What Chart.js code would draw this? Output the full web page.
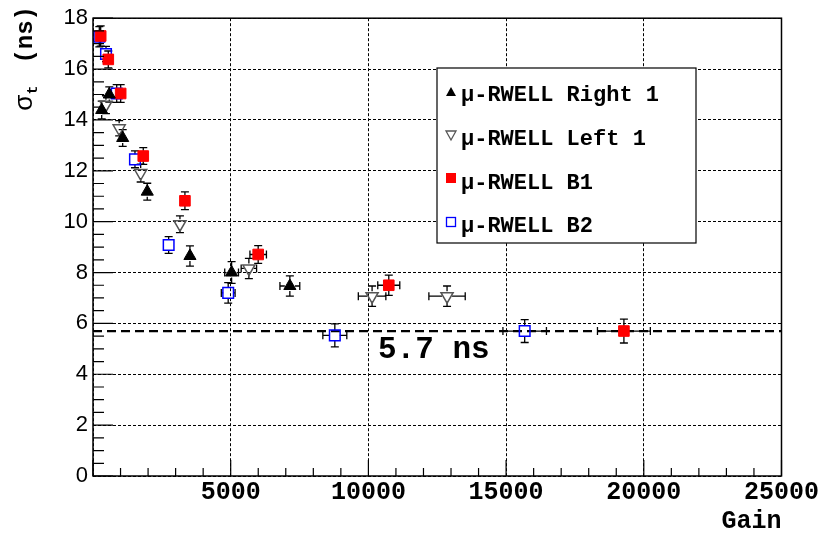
<!DOCTYPE html>
<html>
<head>
<meta charset="utf-8">
<script src="https://cdn.jsdelivr.net/npm/chart.js@4.4.1/dist/chart.umd.min.js"></script>
<style>
  html, body { margin: 0; padding: 0; background: #fff; }
</style>
</head>
<body>
<canvas id="sigma-chart" width="821" height="533"></canvas>
<script>
// timing resolution vs gain
const right1_gain = [316, 591, 1078, 1970, 3520, 5033, 7148];
const right1_sigma = [14.39, 15.0, 13.29, 11.18, 8.65, 8.0, 7.47];
const right1_sigma_err = [0.35, 0.3, 0.33, 0.33, 0.4, 0.43, 0.4];
const right1_gain_err = [15, 30, 55, 100, 180, 250, 360];

const left1_gain = [470, 950, 1731, 3157, 5660, 10134, 12856];
const left1_sigma = [14.6, 13.67, 11.91, 9.9, 8.16, 7.07, 7.07];
const left1_sigma_err = [0.35, 0.3, 0.35, 0.33, 0.4, 0.4, 0.4];
const left1_gain_err = [25, 50, 90, 160, 280, 500, 660];

const b1_gain = [279, 555, 1005, 1825, 3338, 5998, 10740, 19278];
const b1_sigma = [17.3, 16.38, 15.04, 12.58, 10.82, 8.71, 7.5, 5.7];
const b1_sigma_err = [0.4, 0.33, 0.35, 0.33, 0.35, 0.35, 0.4, 0.47];
const b1_gain_err = [15, 30, 50, 90, 170, 300, 400, 960];

const b2_gain = [229, 472, 860, 1524, 2747, 4909, 8781, 15675];
const b2_sigma = [17.27, 16.59, 15.04, 12.45, 9.08, 7.2, 5.53, 5.7];
const b2_sigma_err = [0.4, 0.3, 0.35, 0.33, 0.33, 0.4, 0.45, 0.45];
const b2_gain_err = [12, 25, 45, 75, 140, 250, 435, 790];

const limit_gain = [0, 25000];
const limit_sigma = [5.7, 5.7];

const series_labels = ["\u03bc-RWELL Right 1", "\u03bc-RWELL Left 1", "\u03bc-RWELL B1", "\u03bc-RWELL B2"];

const mono = '"Liberation Mono", "Courier New", monospace';
const sans = '"Liberation Sans", Arial, sans-serif';

function pts(xs, ys) {
  return xs.map((x, i) => ({ x: x, y: ys[i] }));
}

// error bars under the markers, stopping at the marker edge
const errorBars = {
  id: 'errorBars',
  beforeDatasetsDraw(chart) {
    const ctx = chart.ctx;
    const xs = chart.scales.x, ys = chart.scales.y;
    ctx.save();
    ctx.strokeStyle = '#000';
    ctx.lineWidth = 1.3;
    chart.data.datasets.forEach(ds => {
      if (!ds.errY) return;
      ds.data.forEach((p, i) => {
        const px = xs.getPixelForValue(p.x), py = ys.getPixelForValue(p.y);
        const y0 = ys.getPixelForValue(p.y - ds.errY[i]);
        const y1 = ys.getPixelForValue(p.y + ds.errY[i]);
        const x0 = xs.getPixelForValue(p.x - ds.errX[i]);
        const x1 = xs.getPixelForValue(p.x + ds.errX[i]);
        const gap = 5;
        ctx.beginPath();
        ctx.moveTo(px, py - gap); ctx.lineTo(px, y1);
        ctx.moveTo(px, py + gap); ctx.lineTo(px, y0);
        ctx.moveTo(px - 4, y1); ctx.lineTo(px + 4, y1);
        ctx.moveTo(px - 4, y0); ctx.lineTo(px + 4, y0);
        if (x1 - x0 > 2 * gap) {
          ctx.moveTo(px - gap, py); ctx.lineTo(x0, py);
          ctx.moveTo(px + gap, py); ctx.lineTo(x1, py);
          ctx.moveTo(x0, py - 4); ctx.lineTo(x0, py + 4);
          ctx.moveTo(x1, py - 4); ctx.lineTo(x1, py + 4);
        }
        ctx.stroke();
      });
    });
    ctx.restore();
  }
};

// frame, inward ticks, axis titles, annotation and the boxed legend
const decorations = {
  id: 'decorations',
  afterDraw(chart) {
    const ctx = chart.ctx;
    const a = chart.chartArea;
    const xs = chart.scales.x, ys = chart.scales.y;
    ctx.save();

    ctx.strokeStyle = '#000';
    ctx.lineWidth = 1.5;
    ctx.strokeRect(a.left, a.top, a.right - a.left, a.bottom - a.top);

    ctx.lineWidth = 1.2;
    ctx.beginPath();
    for (let v = 0; v <= 25000; v += 1000) {
      const px = xs.getPixelForValue(v);
      const len = v % 5000 === 0 ? 16 : 8;
      ctx.moveTo(px, a.bottom); ctx.lineTo(px, a.bottom - len);
    }
    for (let v = 0; v <= 18; v += 0.5) {
      const py = ys.getPixelForValue(v);
      const len = v % 2 === 0 ? 20 : 11;
      ctx.moveTo(a.left, py); ctx.lineTo(a.left + len, py);
    }
    ctx.stroke();

    ctx.fillStyle = '#000';
    ctx.font = 'bold 25px ' + mono;
    ctx.textAlign = 'right';
    ctx.textBaseline = 'alphabetic';
    ctx.fillText('Gain', a.right, 528);

    // y title, rotated, reading upward
    ctx.save();
    ctx.translate(32, 6);
    ctx.rotate(-Math.PI / 2);
    ctx.textAlign = 'right';
    ctx.font = 'bold 24px ' + mono;
    ctx.fillText('(ns)', 0, 0);
    const w = ctx.measureText('(ns)').width + 22;
    ctx.font = 'bold 15px ' + mono;
    ctx.fillText('t', -w, 5);
    const wt = ctx.measureText('t').width;
    ctx.font = '26px ' + sans;
    ctx.fillText('\u03c3', -w - wt, 0);
    ctx.restore();

    ctx.font = 'bold 31px ' + mono;
    ctx.textAlign = 'left';
    ctx.fillText('5.7 ns', 378, 358);

    // legend box
    const lx = 437, ly = 68, lw = 259, lh = 175;
    ctx.fillStyle = '#fff';
    ctx.fillRect(lx, ly, lw, lh);
    ctx.strokeStyle = '#000';
    ctx.lineWidth = 1.2;
    ctx.strokeRect(lx, ly, lw, lh);
    const rows = [92, 135, 178, 222];
    const base = [101, 145, 189, 232];
    chart.data.datasets.forEach((ds, i) => {
      if (!ds.errY) return;
      const cy = rows[i], cx = 451;
      ctx.save();
      ctx.lineWidth = 1.3;
      if (i === 0) {
        ctx.fillStyle = '#000';
        ctx.beginPath();
        ctx.moveTo(cx, cy - 5); ctx.lineTo(cx + 5, cy + 4); ctx.lineTo(cx - 5, cy + 4);
        ctx.closePath(); ctx.fill();
      } else if (i === 1) {
        ctx.strokeStyle = '#555';
        ctx.beginPath();
        ctx.moveTo(cx, cy + 5); ctx.lineTo(cx + 5, cy - 4); ctx.lineTo(cx - 5, cy - 4);
        ctx.closePath(); ctx.stroke();
      } else if (i === 2) {
        ctx.fillStyle = '#ff0000';
        ctx.fillRect(cx - 5, cy - 5, 10, 10);
      } else {
        ctx.strokeStyle = '#0000ff';
        ctx.strokeRect(cx - 4.5, cy - 4.5, 9, 9);
      }
      ctx.restore();
      ctx.fillStyle = '#000';
      ctx.font = 'bold 22px ' + mono;
      ctx.textAlign = 'left';
      ctx.fillText(series_labels[i], 461, base[i]);
    });

    ctx.restore();
  }
};

new Chart(document.getElementById('sigma-chart'), {
  type: 'scatter',
  data: {
    datasets: [{
      label: series_labels[0],
      data: pts(right1_gain, right1_sigma),
      errY: right1_sigma_err,
      errX: right1_gain_err,
      pointStyle: 'triangle',
      pointRadius: 7,
      backgroundColor: '#000',
      borderColor: '#000',
      borderWidth: 1,
      order: 1
    },
    {
      label: series_labels[1],
      data: pts(left1_gain, left1_sigma),
      errY: left1_sigma_err,
      errX: left1_gain_err,
      pointStyle: 'triangle',
      rotation: 180,
      pointRadius: 7,
      backgroundColor: 'rgba(0,0,0,0)',
      borderColor: '#555',
      borderWidth: 1.5,
      order: 1
    },
    {
      label: series_labels[2],
      data: pts(b1_gain, b1_sigma),
      errY: b1_sigma_err,
      errX: b1_gain_err,
      pointStyle: 'rect',
      pointRadius: 7.5,
      backgroundColor: '#ff0000',
      borderColor: '#ff0000',
      borderWidth: 1,
      order: 1
    },
    {
      label: series_labels[3],
      data: pts(b2_gain, b2_sigma),
      errY: b2_sigma_err,
      errX: b2_gain_err,
      pointStyle: 'rect',
      pointRadius: 7.5,
      backgroundColor: 'rgba(0,0,0,0)',
      borderColor: '#0000ff',
      borderWidth: 1.5,
      order: 1
    },
    {
      type: 'line',
      label: 'limit',
      data: pts(limit_gain, limit_sigma),
      borderColor: '#000',
      borderWidth: 2.2,
      borderDash: [9, 5],
      pointRadius: 0,
      order: 10
    }]
  },
  options: {
    responsive: false,
    animation: false,
    layout: { padding: { top: 18, right: 34, left: 0, bottom: 0 } },
    plugins: {
      legend: { display: false },
      tooltip: { enabled: false }
    },
    scales: {
      x: {
        type: 'linear',
        min: 0,
        max: 25000,
        afterFit(scale) { scale.height = 57; },
        grid: { color: '#000', lineWidth: 1, drawTicks: false },
        border: { display: false, dash: [3, 2] },
        ticks: {
          stepSize: 5000,
          padding: 2,
          color: '#000',
          font: { family: mono, size: 25, weight: 'bold' },
          maxRotation: 0,
          callback: v => v === 0 ? '' : String(v)
        }
      },
      y: {
        min: 0,
        max: 18,
        afterFit(scale) { scale.width = 93; },
        grid: { color: '#000', lineWidth: 1, drawTicks: false },
        border: { display: false, dash: [3, 2] },
        ticks: {
          stepSize: 2,
          padding: 5,
          color: '#000',
          font: { family: sans, size: 22 },
          callback: v => String(v)
        }
      }
    }
  },
  plugins: [errorBars, decorations]
});
</script>
</body>
</html>
